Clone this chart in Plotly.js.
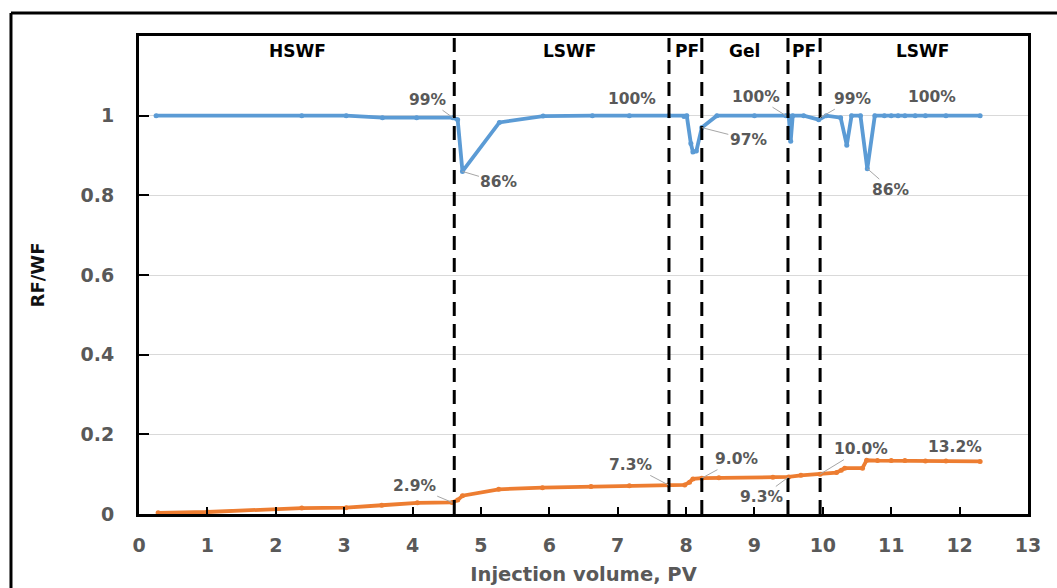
<!DOCTYPE html>
<html>
<head>
<meta charset="utf-8">
<script src="https://cdn.plot.ly/plotly-3.0.1.min.js"></script>
<style>html,body{margin:0;padding:0;background:#fff;}#chart{width:1057px;height:588px;}</style>
</head>
<body>
<div id="chart"></div>
<script>
// RF/WF (blue) series
const blueX = [0.25, 2.38, 3.03, 3.56, 4.06, 4.59, 4.66, 4.73, 5.27, 5.91, 6.63, 7.17, 7.75, 7.97, 8.01, 8.07, 8.10, 8.15, 8.23, 8.45, 9.0, 9.46, 9.50, 9.53, 9.56, 9.72, 9.94, 10.05, 10.26, 10.35, 10.42, 10.55, 10.65, 10.76, 10.9, 11.0, 11.1, 11.2, 11.35, 11.5, 11.8, 12.3];
const blueY = [1.0, 1.0, 1.0, 0.995, 0.995, 0.995, 0.99, 0.86, 0.983, 0.999, 1.0, 1.0, 1.0, 0.998, 1.0, 0.93, 0.909, 0.911, 0.97, 1.0, 1.0, 1.0, 1.0, 0.936, 1.0, 1.0, 0.99, 1.0, 0.995, 0.926, 1.0, 1.0, 0.867, 1.0, 1.0, 1.0, 1.0, 1.0, 1.0, 1.0, 1.0, 1.0];
// Recovery (orange) series
const orangeX = [0.28, 1.0, 2.38, 3.03, 3.55, 4.07, 4.58, 4.66, 4.73, 5.26, 5.9, 6.61, 7.17, 7.74, 7.98, 8.05, 8.1, 8.23, 8.48, 9.27, 9.5, 9.68, 9.96, 10.2, 10.27, 10.32, 10.58, 10.64, 10.8, 11.0, 11.2, 11.5, 11.8, 12.3];
const orangeY = [0.003, 0.005, 0.015, 0.016, 0.022, 0.028, 0.029, 0.035, 0.046, 0.062, 0.066, 0.069, 0.071, 0.073, 0.073, 0.08, 0.088, 0.09, 0.091, 0.092, 0.093, 0.097, 0.100, 0.104, 0.11, 0.115, 0.115, 0.135, 0.134, 0.134, 0.134, 0.133, 0.133, 0.132];
// Stage boundaries and labels
const boundaries = [4.61, 7.75, 8.23, 9.49, 9.96];
const stageNames = ['HSWF', 'LSWF', 'PF', 'Gel', 'PF', 'LSWF'];
const stageX = [2.32, 6.29, 8.01, 8.85, 9.72, 11.45];
// Value labels: text, point x, point y, offset x, offset y (px), arrow
const labText = ['99%', '86%', '100%', '97%', '100%', '99%', '100%', '86%', '2.9%', '7.3%', '9.0%', '9.3%', '10.0%', '13.2%'];
const labX = [4.59, 4.73, 7.17, 8.23, 9.46, 9.96, 11.6, 10.65, 4.58, 7.74, 8.23, 9.5, 9.96, 11.93];
const labY = [0.995, 0.86, 1.0, 0.97, 1.0, 0.995, 1.0, 0.867, 0.029, 0.073, 0.09, 0.093, 0.100, 0.132];
const labAX = [-25, 37, 3, 47, -30, 33, 0, 24, -38, -38, 35, -27, 41, 0];
const labAY = [-18, 11, -17, 12, -19, -19, -19, 21, -16, -20, -19, 20, -25, -14];
const labArrow = [true, true, false, true, true, true, false, true, true, true, true, true, true, false];

const fontFam = 'DejaVu Sans, sans-serif';

const traces = [
  {x: blueX, y: blueY, type: 'scatter', mode: 'lines+markers',
   line: {color: '#5B9BD5', width: 3.8}, marker: {color: '#5B9BD5', size: 5}, hoverinfo: 'x+y'},
  {x: orangeX, y: orangeY, type: 'scatter', mode: 'lines+markers',
   line: {color: '#ED7D31', width: 3.8}, marker: {color: '#ED7D31', size: 5}, hoverinfo: 'x+y'}
];

const shapes = boundaries.map(b => ({
  type: 'line', xref: 'x', yref: 'y', x0: b, x1: b, y0: 0, y1: 1.2,
  line: {color: '#000', width: 3, dash: '14px,8px'}
}));
// outer chart frame (left and top edges)
shapes.push({type: 'line', xref: 'paper', yref: 'paper', x0: -0.144, x1: -0.144, y0: 1.048, y1: -0.2, line: {color: '#000', width: 3}});
shapes.push({type: 'line', xref: 'paper', yref: 'paper', x0: -0.144, x1: 1.05, y0: 1.048, y1: 1.048, line: {color: '#000', width: 3}});

const annotations = [];
stageNames.forEach((s, i) => annotations.push({
  x: stageX[i], y: 1.162, xref: 'x', yref: 'y', text: s, showarrow: false,
  font: {family: fontFam, size: 17, color: '#000', weight: 'bold'}
}));
labText.forEach((t, i) => {
  const a = {x: labX[i], y: labY[i], xref: 'x', yref: 'y', text: t,
    font: {family: fontFam, size: 15.5, color: '#595959', weight: 'bold'}};
  if (labArrow[i]) {
    Object.assign(a, {showarrow: true, arrowhead: 0, arrowwidth: 1, arrowcolor: '#a6a6a6', ax: labAX[i], ay: labAY[i], standoff: 0});
  } else {
    Object.assign(a, {showarrow: true, arrowwidth: 0.01, arrowcolor: 'rgba(0,0,0,0)', ax: labAX[i], ay: labAY[i]});
  }
  annotations.push(a);
});

const layout = {
  width: 1057, height: 588,
  margin: {l: 139, r: 29, t: 36, b: 74},
  paper_bgcolor: '#fff', plot_bgcolor: '#fff',
  showlegend: false,
  xaxis: {
    range: [0, 13], tickvals: [0,1,2,3,4,5,6,7,8,9,10,11,12,13],
    showgrid: false, zeroline: false,
    showline: true, mirror: true, linecolor: '#000', linewidth: 3,
    ticks: 'inside', ticklen: 7, tickcolor: '#000', tickwidth: 2,
    ticklabelstandoff: 12,
    tickfont: {family: fontFam, size: 19, color: '#595959', weight: 'bold'},
    title: {text: 'Injection volume, PV', standoff: 13,
      font: {family: fontFam, size: 19.5, color: '#595959', weight: 'bold'}}
  },
  yaxis: {
    range: [0, 1.2], tickvals: [0, 0.2, 0.4, 0.6, 0.8, 1], ticktext: ['0','0.2','0.4','0.6','0.8','1'],
    showgrid: true, gridcolor: '#d9d9d9', gridwidth: 1, zeroline: false,
    showline: true, mirror: true, linecolor: '#000', linewidth: 3,
    ticks: 'inside', ticklen: 10, tickcolor: '#000', tickwidth: 2,
    ticklabelstandoff: 18,
    tickfont: {family: fontFam, size: 19, color: '#595959', weight: 'bold'},
    title: {text: 'RF/WF', standoff: 32,
      font: {family: fontFam, size: 18, color: '#111', weight: 'bold'}}
  },
  shapes: shapes,
  annotations: annotations
};

Plotly.newPlot('chart', traces, layout, {displayModeBar: false, staticPlot: true});
</script>
</body>
</html>
